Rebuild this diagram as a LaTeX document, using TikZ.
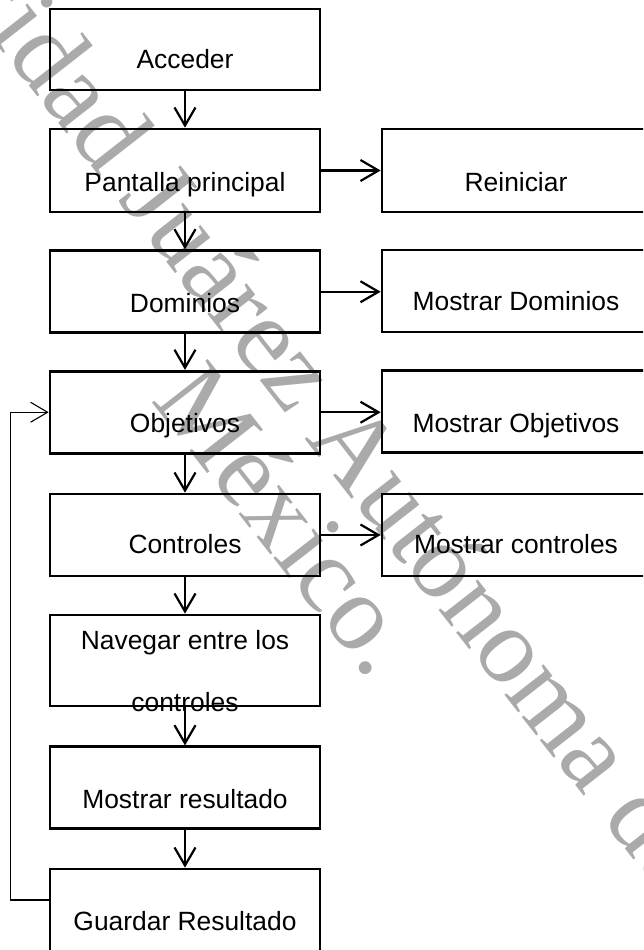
\documentclass[tikz,border=0pt]{standalone}
\usepackage{fontspec}
\setmainfont{Liberation Sans}
\newfontfamily\wmfont{Liberation Serif}
\usetikzlibrary{arrows.meta}
\definecolor{wmgray}{RGB}{170,170,170}
\begin{document}
\begin{tikzpicture}[x=1pt,y=-1pt,
  box/.style={draw=black, line width=2.7pt, rectangle, inner sep=0pt, minimum width=270pt, minimum height=82pt},
  rbox/.style={box, minimum width=268pt},
  lbl/.style={anchor=base, inner sep=0pt, font=\fontsize{26.4}{31}\selectfont},
  flow/.style={line width=2.2pt, -{Straight Barb[length=18pt,width=21pt]}},
  back/.style={line width=1.1pt, -{Straight Barb[length=17pt,width=20pt]}},
  wm/.style={anchor=base west, inner sep=0pt, rotate=-52, text=wmgray, font=\wmfont\fontsize{108}{108}\selectfont}
]
\useasboundingbox (0,0) rectangle (643,950);
\begin{scope}
\clip (0,0) rectangle (643,950);
% watermark
\node[wm] (wm1) at (-224,-238) {Universidad Juárez Autónoma de Tabasco.};
\node[wm] (wm2) at (150,400) {México.};
% labels
\node[lbl] (tacc) at (185,69) {Acceder};
\node[lbl] (tpan) at (185,191) {Pantalla principal};
\node[lbl] (tdom) at (185,312) {Dominios};
\node[lbl] (tobj) at (185,432) {Objetivos};
\node[lbl] (tcon) at (185,553) {Controles};
\node[lbl, align=center, font=\fontsize{26.4}{62}\selectfont] (tnav) at (185,711) {Navegar entre los\\controles};
\node[lbl] (tmres) at (185,808) {Mostrar resultado};
\node[lbl] (tgua) at (185,930) {Guardar Resultado};
\node[lbl] (trei) at (516,191) {Reiniciar};
\node[lbl] (tmdom) at (516,310) {Mostrar Dominios};
\node[lbl] (tmobj) at (516,432) {Mostrar Objetivos};
\node[lbl] (tmcon) at (516,553) {Mostrar controles};
% boxes
\node[box, minimum height=81pt] (acc) at (185,49.5) {};
\node[box, minimum height=83pt] (pan) at (185,170.5) {};
\node[box] (dom) at (185,291.75) {};
\node[box] (obj) at (185,412.25) {};
\node[box] (con) at (185,535) {};
\node[box, minimum height=91pt] (nav) at (185,660.5) {};
\node[box] (mres) at (185,787.75) {};
\node[box, minimum height=83pt] (gua) at (185,910.5) {};
\node[rbox, minimum height=83pt] (rei) at (516,170.5) {};
\node[rbox] (mdom) at (516,291) {};
\node[rbox] (mobj) at (516,411.5) {};
\node[rbox] (mcon) at (516,535) {};
% vertical flow
\draw[flow] (acc.south) -- (pan.north);
\draw[flow] (pan.south) -- (dom.north);
\draw[flow] (dom.south) -- (obj.north);
\draw[flow] (obj.south) -- (con.north);
\draw[flow] (con.south) -- (nav.north);
\draw[flow] (nav.south) -- (mres.north);
\draw[flow] (mres.south) -- (gua.north);
% horizontal flow
\draw[flow] (pan.east) -- (pan.east -| rei.west);
\draw[flow] (dom.east) -- (dom.east -| mdom.west);
\draw[flow] (obj.east) -- (obj.east -| mobj.west);
\draw[flow] (con.east) -- (con.east -| mcon.west);
% feedback loop
\draw[back] ([yshift=10.5pt]gua.west) -- ++(-38,0) |- (obj.west);
\end{scope}
\end{tikzpicture}
\end{document}
